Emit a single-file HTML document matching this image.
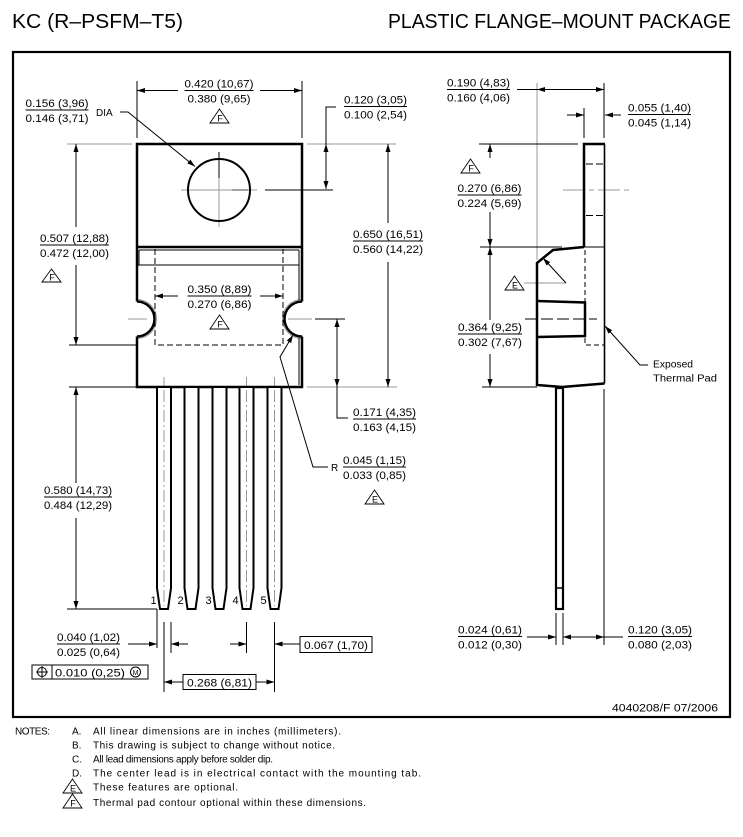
<!DOCTYPE html>
<html><head><meta charset="utf-8"><title>KC (R-PSFM-T5) Plastic Flange-Mount Package</title>
<style>
html,body{margin:0;padding:0;background:#fff;width:743px;height:837px;overflow:hidden}
svg{display:block}
text{font-family:"Liberation Sans",Arial,sans-serif;fill:#000;stroke:none}
.d{font-size:11px}
.n{font-size:10px}
.t{font-size:9px}
</style></head><body>
<svg width="743" height="837" viewBox="0 0 743 837" xmlns="http://www.w3.org/2000/svg">
<defs>
<marker id="a" viewBox="0 0 8 5" refX="8" refY="2.5" markerWidth="8" markerHeight="5" markerUnits="userSpaceOnUse" orient="auto-start-reverse"><path d="M0,0L8,2.5L0,5z" fill="#000" stroke="none"/></marker>
</defs>
<rect x="0" y="0" width="743" height="837" fill="#fff"/>

<!-- Titles -->
<text x="12" y="28" font-size="20" textLength="171" lengthAdjust="spacingAndGlyphs">KC (R–PSFM–T5)</text>
<text x="388" y="28" font-size="20" textLength="343" lengthAdjust="spacingAndGlyphs">PLASTIC FLANGE–MOUNT PACKAGE</text>

<!-- Frame -->
<rect x="13" y="52" width="717" height="665" fill="none" stroke="#000" stroke-width="2.2"/>

<!-- ===== Gray lines ===== -->
<g fill="none" stroke="#999" stroke-width="1">
  <path d="M219,178V227M181,190H257"/>
  <path d="M67,144H132M307,144H396M307,387H397"/>
  <path d="M128,319H147M288,319H312"/>
  <path d="M537,83V260"/>
  <path d="M563,190H630" stroke-dasharray="22,4,5,4"/>
  <path d="M524,283H566"/>
  <path d="M137,299.5A19.5,19.5 0 0 1 137,338.5"/>
  <path d="M302,299.5A19.5,19.5 0 0 0 302,338.5"/>
  <path d="M164,377V607M246.5,377V607M274.5,377V607" stroke-dasharray="12,3,2,3"/>
</g>

<!-- ===== Front view thick outlines ===== -->
<g fill="none" stroke="#000" stroke-width="2.5">
  <path d="M137,301.5V144H302V301.5M302,336.5V387H137V336.5M137,247H302"/>
  <path d="M137,301.5A17.5,17.5 0 0 1 137,336.5"/>
  <path d="M302,301.5A17.5,17.5 0 0 0 302,336.5"/>
</g>
<circle cx="219" cy="190" r="31" fill="none" stroke="#000" stroke-width="2"/>

<!-- inner thin body lines -->
<g fill="none" stroke="#000" stroke-width="1">
  <path d="M139,250H299M139,250V265M137,265H299M299,250V300M299,338V385"/>
  <path d="M155,249V345H283V249" stroke-dasharray="6,3"/>
</g>

<!-- Leads -->
<g fill="#fff" stroke="#000" stroke-width="2">
  <path d="M157,388V588L160,609H168L171,588V388"/>
  <path d="M184.5,388V588L187.5,609H195.5L198.5,588V388"/>
  <path d="M212.5,388V588L215.5,609H223.5L226.5,588V388"/>
  <path d="M239.5,388V588L242.5,609H250.5L253.5,588V388"/>
  <path d="M267.5,388V588L270.5,609H278.5L281.5,588V388"/>
</g>
<g fill="none" stroke="#999" stroke-width="1">
  <path d="M164,390V606M246.5,390V606M274.5,390V606" stroke-dasharray="12,3,2,3"/>
</g>
<text class="d" x="150.5" y="604">1</text>
<text class="d" x="177.5" y="604">2</text>
<text class="d" x="205.5" y="604">3</text>
<text class="d" x="232.5" y="604">4</text>
<text class="d" x="260.5" y="604">5</text>

<!-- ===== Front view dimension lines ===== -->
<g fill="none" stroke="#000" stroke-width="1">
  <path d="M219,152V178"/>
  <path d="M232,190H248" stroke="#444"/>
  <path d="M265,190H333"/>
  <path d="M137,81V138M302,81V138"/>
  <path d="M178,90.5H137" marker-end="url(#a)"/>
  <path d="M260,90.5H302" marker-end="url(#a)"/>
  <path d="M120,112H128L195,166.5" marker-end="url(#a)"/>
  <path d="M336,107H326V189"/>
  <path d="M326,156V144" marker-end="url(#a)"/>
  <path d="M326,177V189" marker-end="url(#a)"/>
  <path d="M388,223V144" marker-end="url(#a)"/>
  <path d="M388,262V387" marker-end="url(#a)"/>
  <path d="M76,227V144" marker-end="url(#a)"/>
  <path d="M76,265V345" marker-end="url(#a)"/>
  <path d="M69,345H137"/>
  <path d="M69,387H137"/>
  <path d="M76,483V387" marker-end="url(#a)"/>
  <path d="M76,518V609" marker-end="url(#a)"/>
  <path d="M67,609H157"/>
  <path d="M178,296H155" marker-end="url(#a)"/>
  <path d="M260,296H283" marker-end="url(#a)"/>
  <path d="M315,319H345"/>
  <path d="M337,319V418H348"/>
  <path d="M337,335V319" marker-end="url(#a)"/>
  <path d="M337,370V387" marker-end="url(#a)"/>
  <path d="M328,467H313L280,357L293,335" marker-end="url(#a)"/>
  <path d="M157,609V648M171,622V653M164,622V692M246.5,622V653M274.5,622V692"/>
  <path d="M128,644H157" marker-end="url(#a)"/>
  <path d="M188,644H171" marker-end="url(#a)"/>
  <path d="M230,644H246.5" marker-end="url(#a)"/>
  <path d="M300,644H274.5" marker-end="url(#a)"/>
  <rect x="300" y="636.5" width="72" height="16"/>
  <path d="M183,682H164" marker-end="url(#a)"/>
  <path d="M256,682H274.5" marker-end="url(#a)"/>
  <rect x="183" y="674.5" width="73" height="15"/>
  <rect x="32" y="665" width="116" height="14"/>
  <path d="M52,665V679"/>
  <circle cx="42" cy="672" r="4.5"/>
  <path d="M36,672H48M42,666V678"/>
  <circle cx="135.5" cy="672" r="5"/>
</g>
<text class="d" x="336" y="649" text-anchor="middle" textLength="64" lengthAdjust="spacingAndGlyphs">0.067 (1,70)</text>
<text class="d" x="219.5" y="686.5" text-anchor="middle" textLength="65" lengthAdjust="spacingAndGlyphs">0.268 (6,81)</text>
<text class="d" x="55" y="676.5" textLength="70" lengthAdjust="spacingAndGlyphs">0.010 (0,25)</text>
<text x="135.5" y="674.8" font-size="7" text-anchor="middle">M</text>
<text class="n" x="96" y="116">DIA</text>
<text class="n" x="331" y="471">R</text>

<!-- ===== Side view ===== -->
<g fill="none" stroke="#000" stroke-width="1">
  <path d="M604,83V138M584,108V138"/>
  <path d="M517,89.5H604"/>
  <path d="M547,89.5H537" marker-end="url(#a)"/>
  <path d="M594,89.5H604" marker-end="url(#a)"/>
  <path d="M567,115H584" marker-end="url(#a)"/>
  <path d="M621,115H605" marker-end="url(#a)"/>
  <path d="M479,144H578"/>
  <path d="M490,158V144" marker-end="url(#a)"/>
  <path d="M490,212V247" marker-end="url(#a)"/>
  <path d="M480,247H562"/>
  <path d="M490,320V247" marker-end="url(#a)"/>
  <path d="M490,354V387" marker-end="url(#a)"/>
  <path d="M482,387H537"/>
  <path d="M586,164H603M586,215.5H603" stroke-dasharray="7,3"/>
  <path d="M585,250V345H604" stroke-dasharray="5,3"/>
  <path d="M525,319H597" stroke-dasharray="12,4"/>
  <path d="M584,247H604"/>
  <path d="M566,283L543,258" marker-end="url(#a)"/>
  <path d="M648,365H640L605,326" marker-end="url(#a)"/>
  <path d="M604,389V645"/>
  <path d="M556,613V645M563,613V645"/>
  <path d="M527,637H556" marker-end="url(#a)"/>
  <path d="M563,637H604" marker-start="url(#a)" marker-end="url(#a)"/>
  <path d="M604,637H623"/>
</g>
<g fill="none" stroke="#000">
  <path d="M604.5,144V383.5" stroke-width="1.6"/>
  <path d="M584,247V144H605" stroke-width="2.5"/>
  <path d="M584,247L553,250L537,263V385L562,387L604.5,383.5" stroke-width="2.5"/>
  <path d="M537,301L585,302.5V336L537,337" stroke-width="2.5"/>
  <rect x="556" y="388" width="7" height="221" fill="#fff" stroke-width="2.2"/>
  <path d="M556,588H563" stroke-width="1.5"/>
</g>
<text class="n" x="653" y="367.5" textLength="40" lengthAdjust="spacingAndGlyphs">Exposed</text>
<text class="n" x="653" y="381.5" textLength="64" lengthAdjust="spacingAndGlyphs">Thermal Pad</text>
<text class="d" x="612" y="711.5" textLength="106" lengthAdjust="spacingAndGlyphs">4040208/F 07/2006</text>

<!-- ===== Triangle symbols ===== -->
<g fill="none" stroke="#000" stroke-width="0.9">
  <path d="M219.5,109L210,123H229Z"/>
  <path d="M51.5,269L42,282H61Z"/>
  <path d="M219.5,315L210,329H229Z"/>
  <path d="M470.5,159L461,173H480Z"/>
  <path d="M514.5,276L505,290H524Z"/>
  <path d="M374.5,490L365,504H384Z"/>
  <path d="M72.5,779L63,793H82Z"/>
  <path d="M72.5,794L63,808H82Z"/>
</g>
<text class="t" x="220" y="121.5" text-anchor="middle">F</text>
<text class="t" x="52" y="280.5" text-anchor="middle">F</text>
<text class="t" x="220" y="327.5" text-anchor="middle">F</text>
<text class="t" x="471" y="171.5" text-anchor="middle">F</text>
<text class="t" x="515" y="288.5" text-anchor="middle">E</text>
<text class="t" x="375" y="502.5" text-anchor="middle">E</text>
<text class="t" x="73" y="791.5" text-anchor="middle">E</text>
<text class="t" x="73" y="806.5" text-anchor="middle">F</text>

<!-- ===== Fraction labels ===== -->
<g stroke="#000" stroke-width="1">
  <path d="M184.5,90.5H253.5"/>
  <path d="M25.5,110H88.5"/>
  <path d="M344,106.5H407"/>
  <path d="M40,245H109"/>
  <path d="M187.5,296H251.5"/>
  <path d="M353,241H423"/>
  <path d="M353,419H416"/>
  <path d="M343,467H406"/>
  <path d="M44,497H112"/>
  <path d="M57,644H120"/>
  <path d="M447,89.5H510"/>
  <path d="M628,114.5H691"/>
  <path d="M457.5,195H521.5"/>
  <path d="M458,334H522"/>
  <path d="M458,636.5H522"/>
  <path d="M628,636.5H692"/>
</g>
<text class="d" x="219" y="87.5" text-anchor="middle" textLength="69" lengthAdjust="spacingAndGlyphs">0.420 (10,67)</text>
<text class="d" x="219" y="102.5" text-anchor="middle" textLength="63" lengthAdjust="spacingAndGlyphs">0.380 (9,65)</text>
<text class="d" x="57" y="107" text-anchor="middle" textLength="63" lengthAdjust="spacingAndGlyphs">0.156 (3,96)</text>
<text class="d" x="57" y="122" text-anchor="middle" textLength="63" lengthAdjust="spacingAndGlyphs">0.146 (3,71)</text>
<text class="d" x="375.5" y="103.5" text-anchor="middle" textLength="63" lengthAdjust="spacingAndGlyphs">0.120 (3,05)</text>
<text class="d" x="375.5" y="118.5" text-anchor="middle" textLength="63" lengthAdjust="spacingAndGlyphs">0.100 (2,54)</text>
<text class="d" x="74.5" y="242" text-anchor="middle" textLength="69" lengthAdjust="spacingAndGlyphs">0.507 (12,88)</text>
<text class="d" x="74.5" y="257" text-anchor="middle" textLength="69" lengthAdjust="spacingAndGlyphs">0.472 (12,00)</text>
<text class="d" x="219.5" y="293" text-anchor="middle" textLength="64" lengthAdjust="spacingAndGlyphs">0.350 (8,89)</text>
<text class="d" x="219.5" y="308" text-anchor="middle" textLength="64" lengthAdjust="spacingAndGlyphs">0.270 (6,86)</text>
<text class="d" x="388" y="238" text-anchor="middle" textLength="70" lengthAdjust="spacingAndGlyphs">0.650 (16,51)</text>
<text class="d" x="388" y="253" text-anchor="middle" textLength="70" lengthAdjust="spacingAndGlyphs">0.560 (14,22)</text>
<text class="d" x="384.5" y="416" text-anchor="middle" textLength="63" lengthAdjust="spacingAndGlyphs">0.171 (4,35)</text>
<text class="d" x="384.5" y="431" text-anchor="middle" textLength="63" lengthAdjust="spacingAndGlyphs">0.163 (4,15)</text>
<text class="d" x="374.5" y="464" text-anchor="middle" textLength="63" lengthAdjust="spacingAndGlyphs">0.045 (1,15)</text>
<text class="d" x="374.5" y="479" text-anchor="middle" textLength="63" lengthAdjust="spacingAndGlyphs">0.033 (0,85)</text>
<text class="d" x="78" y="494" text-anchor="middle" textLength="68" lengthAdjust="spacingAndGlyphs">0.580 (14,73)</text>
<text class="d" x="78" y="509" text-anchor="middle" textLength="68" lengthAdjust="spacingAndGlyphs">0.484 (12,29)</text>
<text class="d" x="88.5" y="641" text-anchor="middle" textLength="63" lengthAdjust="spacingAndGlyphs">0.040 (1,02)</text>
<text class="d" x="88.5" y="656" text-anchor="middle" textLength="63" lengthAdjust="spacingAndGlyphs">0.025 (0,64)</text>
<text class="d" x="478.5" y="86.5" text-anchor="middle" textLength="63" lengthAdjust="spacingAndGlyphs">0.190 (4,83)</text>
<text class="d" x="478.5" y="101.5" text-anchor="middle" textLength="63" lengthAdjust="spacingAndGlyphs">0.160 (4,06)</text>
<text class="d" x="659.5" y="111.5" text-anchor="middle" textLength="63" lengthAdjust="spacingAndGlyphs">0.055 (1,40)</text>
<text class="d" x="659.5" y="126.5" text-anchor="middle" textLength="63" lengthAdjust="spacingAndGlyphs">0.045 (1,14)</text>
<text class="d" x="489.5" y="192" text-anchor="middle" textLength="64" lengthAdjust="spacingAndGlyphs">0.270 (6,86)</text>
<text class="d" x="489.5" y="207" text-anchor="middle" textLength="64" lengthAdjust="spacingAndGlyphs">0.224 (5,69)</text>
<text class="d" x="490" y="331" text-anchor="middle" textLength="64" lengthAdjust="spacingAndGlyphs">0.364 (9,25)</text>
<text class="d" x="490" y="346" text-anchor="middle" textLength="64" lengthAdjust="spacingAndGlyphs">0.302 (7,67)</text>
<text class="d" x="490" y="633.5" text-anchor="middle" textLength="64" lengthAdjust="spacingAndGlyphs">0.024 (0,61)</text>
<text class="d" x="490" y="648.5" text-anchor="middle" textLength="64" lengthAdjust="spacingAndGlyphs">0.012 (0,30)</text>
<text class="d" x="660" y="633.5" text-anchor="middle" textLength="64" lengthAdjust="spacingAndGlyphs">0.120 (3,05)</text>
<text class="d" x="660" y="648.5" text-anchor="middle" textLength="64" lengthAdjust="spacingAndGlyphs">0.080 (2,03)</text>

<!-- ===== Notes ===== -->
<text class="n" x="15" y="734.5" textLength="35" lengthAdjust="spacing">NOTES:</text>
<text class="n" x="72" y="734.5">A.</text>
<text class="n" x="93" y="734.5" textLength="248" lengthAdjust="spacing">All linear dimensions are in inches (millimeters).</text>
<text class="n" x="72" y="748.5">B.</text>
<text class="n" x="93" y="748.5" textLength="242" lengthAdjust="spacing">This drawing is subject to change without notice.</text>
<text class="n" x="72" y="762.5">C.</text>
<text class="n" x="93" y="762.5" textLength="180" lengthAdjust="spacing">All lead dimensions apply before solder dip.</text>
<text class="n" x="72" y="776.5">D.</text>
<text class="n" x="93" y="776.5" textLength="328" lengthAdjust="spacing">The center lead is in electrical contact with the mounting tab.</text>
<text class="n" x="93" y="790.5" textLength="145" lengthAdjust="spacing">These features are optional.</text>
<text class="n" x="93" y="806" textLength="273" lengthAdjust="spacing">Thermal pad contour optional within these dimensions.</text>
</svg>
</body></html>
